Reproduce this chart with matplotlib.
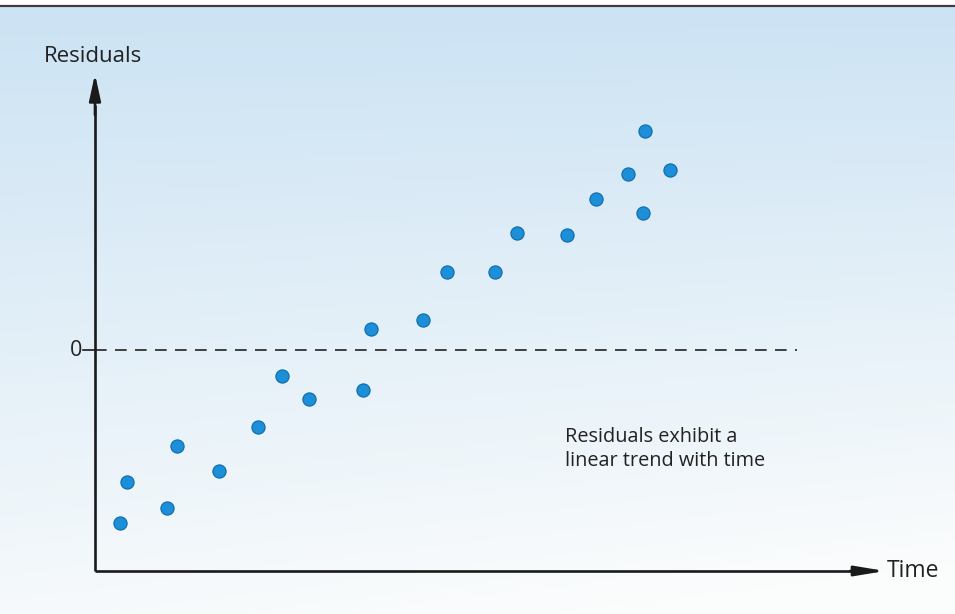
import numpy as np
import matplotlib
matplotlib.use("Agg")
import matplotlib.pyplot as plt

# Data (time units, residual units)
time = [2.5, 3.2, 7.2, 8.2, 12.4, 16.3, 18.7, 21.4, 26.8, 27.6,
        32.8, 35.2, 40.0, 42.2, 47.2, 50.1, 53.3, 54.8, 55.0, 57.5]
residuals = [-17.3, -13.2, -15.8, -9.6, -12.1, -7.7, -2.6, -4.9, -4.0, 2.1,
             3.0, 7.8, 7.8, 11.7, 11.5, 15.1, 17.6, 13.7, 21.9, 18.0]
y_label = "Residuals"
x_label = "Time"
zero_label = "0"
note = "Residuals exhibit a\nlinear trend with time"

plt.rcParams['font.family'] = ['Open Sans', 'DejaVu Sans']

fig = plt.figure(figsize=(9.55, 6.14), dpi=100)
ax = fig.add_axes([0, 0, 1, 1])
# 1 unit = 10 px; origin of axes at pixel (95, 350)
xmin, xmax = -9.5, 86.0
ymin, ymax = -26.4, 35.0
ax.set_xlim(xmin, xmax)
ax.set_ylim(ymin, ymax)
ax.axis('off')

# gradient background
ny, nx = 200, 200
yy, xx = np.mgrid[0:1:ny*1j, 0:1:nx*1j]  # yy=0 top
top = np.array([0.80, 0.89, 0.955])
bot = np.array([0.985, 0.99, 0.99])
t = np.clip(yy * 1.08 - 0.2 * (1 - xx) * yy, 0, 1)[..., None]
img = top * (1 - t) + bot * t
ax.imshow(img, extent=[xmin, xmax, ymin, 35.0 - 0.55], aspect='auto', zorder=0, origin='upper')
# white strip and dark border line at top
ax.axhspan(35.0 - 0.55, ymax, color='white', zorder=0.5)
ax.axhline(35.0 - 0.55, color='#3a3a48', lw=1.6, zorder=1)

# axes lines
x0, y0 = 0.0, -22.1
ax.plot([x0, x0], [y0, 24.5], color='#1a1a1a', lw=1.9, zorder=3, solid_capstyle='butt')
ax.plot([x0, 76.5], [y0, y0], color='#1a1a1a', lw=1.9, zorder=3, solid_capstyle='butt')
ax.annotate('', xy=(x0, 27.6), xytext=(x0, 23.5),
            arrowprops=dict(arrowstyle='-|>,head_length=1.6,head_width=0.35',
                            color='#1a1a1a', lw=1.9, shrinkA=0, shrinkB=0), zorder=4)
ax.annotate('', xy=(79.0, y0), xytext=(75.5, y0),
            arrowprops=dict(arrowstyle='-|>,head_length=1.8,head_width=0.3',
                            color='#1a1a1a', lw=1.9, shrinkA=0, shrinkB=0), zorder=4)

# zero tick and dashed line
ax.plot([-1.2, 0], [0, 0], color='#1a1a1a', lw=1.2, zorder=3)
ax.plot([0, 70.2], [0, 0], color='#222222', lw=1.2, dashes=(7, 5), zorder=2)
ax.text(-1.3, 0, zero_label, ha='right', va='center', fontsize=15.5, color='#222222')

# points
ax.plot(time, residuals, 'o', ls='none', ms=9.5, mfc='#1c8fd8', mec='#0d6aa8', mew=0.8, zorder=5)

# labels
ax.text(-5.1, 29.3, y_label, ha='left', va='center', fontsize=16, color='#222222')
ax.text(79.2, y0, x_label, ha='left', va='center', fontsize=16.5, color='#222222')
ax.text(47.0, -9.9, note, ha='left', va='center', fontsize=14.3, color='#222222',
        linespacing=1.3)

fig.savefig('out.png', dpi=100)
